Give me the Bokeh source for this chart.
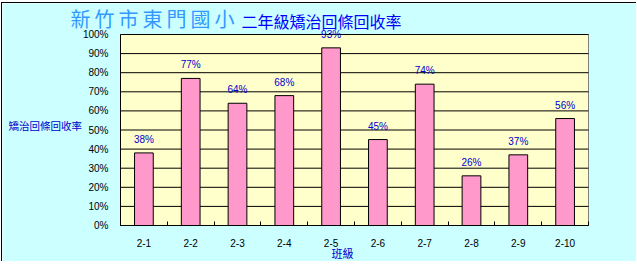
from bokeh.plotting import figure
from bokeh.models import (ColumnDataSource, FixedTicker, NumeralTickFormatter,
                          LabelSet, Label, Range1d)
from bokeh.embed import file_html
from bokeh.resources import INLINE
from bokeh.core.properties import value

# ---- data ----
classes = ["2-1", "2-2", "2-3", "2-4", "2-5", "2-6", "2-7", "2-8", "2-9", "2-10"]
rates = [38, 77, 64, 68, 93, 45, 74, 26, 37, 56]          # percent
y_ticks = [0, 10, 20, 30, 40, 50, 60, 70, 80, 90, 100]    # percent
title_school = "新竹市東門國小"
title_main = "二年級矯治回條回收率"
y_title = "矯治回條回收率"
x_title = "班級"

n = len(classes)
centers = [i + 0.5 for i in range(n)]
bounds = [float(i) for i in range(n + 1)]

src = ColumnDataSource(dict(
    x=centers,
    top=[r / 100 for r in rates],
    label=[f"{r}%" for r in rates],
))

BG = "#CCFFFF"
PLOT_BG = "#FFFFCC"
BAR = "#FF99CC"
FONT = "Liberation Sans"
CJK = "Noto Sans CJK TC"

# ---- layout (canvas pixels) ----
W, H = 635, 259
PL, PR, PT, PB = 118, 586, 31, 222      # plot-area edges inside the canvas
sx = (PR - PL) / n                       # px per category
sy = (PB - PT) / 1.0                     # px per unit (100%)
x_range = Range1d(-PL / sx, (W - PL) / sx)
y_range = Range1d(-(H - PB) / sy, PB / sy)

def dx(px):  # canvas x pixel -> data x
    return (px - PL) / sx

def dy(py):  # canvas y pixel (from top) -> data y
    return (PB - py) / sy

p = figure(width=W, height=H, output_backend="svg", toolbar_location=None,
           x_range=x_range, y_range=y_range)
p.min_border = 0
p.min_border_left = 0
p.min_border_right = 0
p.min_border_top = 0
p.min_border_bottom = 0
p.styles = {"margin-top": "2px", "margin-left": "1px",
            "border-top": "1px solid black", "border-left": "1px solid black"}

p.border_fill_color = BG
p.background_fill_color = BG
p.outline_line_color = None
p.grid.visible = False

# plot area
p.quad(left=[0], right=[n], bottom=[0], top=[1], fill_color=PLOT_BG,
       line_color="#808080", line_width=1)
# horizontal gridlines at the y ticks
p.segment(x0=[0] * len(y_ticks), x1=[n] * len(y_ticks),
          y0=[t / 100 for t in y_ticks], y1=[t / 100 for t in y_ticks],
          line_color="black", line_width=1)

p.vbar(x="x", top="top", width=0.4, source=src, fill_color=BAR,
       line_color="black", line_width=1)

# y axis
p.yaxis.fixed_location = 0
p.yaxis.bounds = (0, 1)
p.yaxis.ticker = FixedTicker(ticks=[t / 100 for t in y_ticks])
p.yaxis.formatter = NumeralTickFormatter(format="0%")
p.yaxis.major_tick_line_color = None
p.yaxis.minor_tick_line_color = None
p.yaxis.axis_line_color = "black"
p.yaxis.major_label_standoff = 6
p.yaxis.major_label_text_font = FONT
p.yaxis.major_label_text_font_size = "10px"
p.yaxis.major_label_text_color = "black"

# x axis
p.xaxis.fixed_location = 0
p.xaxis.bounds = (0, n)
p.xaxis.ticker = FixedTicker(ticks=centers, minor_ticks=bounds)
p.xaxis.major_label_overrides = {c: lab for c, lab in zip(centers, classes)}
p.xaxis.major_tick_line_color = None
p.xaxis.minor_tick_line_color = "black"
p.xaxis.minor_tick_in = 4
p.xaxis.minor_tick_out = 0
p.xaxis.axis_line_color = "black"
p.xaxis.major_label_standoff = 7
p.xaxis.major_label_text_font = FONT
p.xaxis.major_label_text_font_size = "10px"
p.xaxis.major_label_text_color = "black"

# bar value labels
p.add_layout(LabelSet(x="x", y="top", text="label", source=src,
                      text_align="center", text_baseline="bottom",
                      y_offset=8, text_color="#0000CC",
                      text_font=value(FONT), text_font_size="10px"))

# titles
p.add_layout(Label(x=dx(68), y=dy(14.5), text="\u2009".join(title_school),
                   text_align="left", text_baseline="middle",
                   text_color="#3399FF", text_font=CJK, text_font_size="20px"))
p.add_layout(Label(x=dx(239), y=dy(17), text=title_main, text_align="left",
                   text_baseline="middle", text_color="#0000FF",
                   text_font=CJK, text_font_size="16px"))
p.add_layout(Label(x=dx(6), y=dy(122), text=y_title, text_align="left",
                   text_baseline="middle", text_color="#0000CC",
                   text_font=CJK, text_font_size="10.5px"))
p.add_layout(Label(x=dx(340), y=dy(249.5), text=x_title, text_align="center",
                   text_baseline="middle", text_color="#0000CC",
                   text_font=CJK, text_font_size="11px"))

open("out.html", "w").write(file_html(p, INLINE))
